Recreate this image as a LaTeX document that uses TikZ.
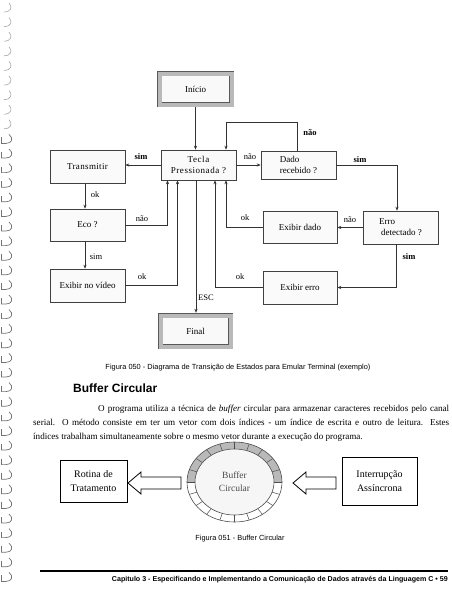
\documentclass[tikz,border=0pt]{standalone}
\usepackage{fontspec}
\setmainfont{Liberation Serif}
\newfontfamily\arialf{Liberation Sans}
\usetikzlibrary{arrows.meta}
\begin{document}
\begin{tikzpicture}[x=1pt,y=-1pt,
  box/.style={draw=black!75, line width=0.6pt, fill=gray!4, inner sep=1pt,
    font=\fontsize{9}{11}\selectfont, align=center},
  term/.style={draw=black!65, line width=0.45pt, double=gray!55, double distance=4pt,
    fill=gray!5, font=\fontsize{9}{10}\selectfont},
  arr/.style={draw=black!80, line width=0.6pt, -{Stealth[length=4pt,width=3.2pt]}},
  lbl/.style={font=\fontsize{8.5}{9}\selectfont, inner sep=0pt},
  blbl/.style={font=\bfseries\fontsize{8.5}{9}\selectfont, inner sep=0pt},
  bbox/.style={draw=black, line width=0.9pt, fill=white, align=center,
    font=\fontsize{10}{14}\selectfont},
  hollow/.style={draw=black, line width=0.8pt, fill=white, line join=miter},
  ring/.style={black!55, line width=0.7pt},
  capt/.style={font=\arialf\fontsize{7.4}{8}\selectfont, inner sep=0pt},
  para/.style={anchor=base west, inner sep=0pt, font=\fontsize{9.1}{11}\selectfont},
]
\useasboundingbox (0,0) rectangle (451,600);

% binding marks
\foreach \i in {0,...,39}{
  \pgfmathsetmacro{\yy}{8+14.6*\i}
  \ifnum\i<9
    \draw[black!35, line width=0.6pt] (4,\yy+4) .. controls (11,\yy+4) and (13,\yy-1) .. (9,\yy-5);
  \else
    \draw[ring] (1,\yy+4) -- (6,\yy+4) .. controls (12,\yy+4) and (14,\yy-1) .. (9,\yy-5);
    \draw[ring] (1,\yy-2) -- (1,\yy+4);
  \fi
}

% ---------- state diagram ----------
\node[term, minimum width=72pt, minimum height=31pt] (inicio) at (195.5,89) {Início};
\node[box, minimum width=75pt, minimum height=30pt] (tecla) at (198.5,165)
  {\addfontfeature{LetterSpace=6}Tecla\\\addfontfeature{LetterSpace=6}Pressionada ?};
\node[box, minimum width=75pt, minimum height=28pt, align=left] (dado) at (298.5,165) {Dado\\recebido ?};
\node[box, minimum width=75pt, minimum height=33pt] (trans) at (87.5,166.5) {\addfontfeature{LetterSpace=4}Transmitir};
\node[box, minimum width=75pt, minimum height=32pt] (eco) at (87.5,225) {Eco ?};
\node[box, minimum width=75pt, minimum height=33pt] (video) at (87.5,285.5) {Exibir no vídeo};
\node[box, minimum width=74pt, minimum height=32pt] (exdado) at (300,227) {Exibir dado};
\node[box, minimum width=75pt, minimum height=33pt, align=left] (erro) at (400.5,227.5) {Erro\\\hspace*{2pt}detectado ?};
\node[box, minimum width=74pt, minimum height=33pt] (exerro) at (300,287.5) {Exibir erro};
\node[term, minimum width=70pt, minimum height=31pt] (final) at (195.5,331) {Final};

\draw[arr, shorten <=2.5pt] (inicio.south) -- (inicio.south |- tecla.north);
\draw[arr] ([xshift=-1.5pt]dado.north) -- ++(0,-28) -| ([xshift=27.5pt]tecla.north);
\draw[arr] (tecla.west) -- (tecla.west -| trans.east);
\draw[arr] (tecla.east) -- (tecla.east -| dado.west);
\draw[arr] (dado.east) -| ([xshift=-3.5pt]erro.north);
\draw[arr] (trans.south -| 85,0) -- (eco.north -| 85,0);
\draw[arr] (eco.south -| 85,0) -- (video.north -| 85,0);
\draw[arr] (eco.east) -| ([xshift=-31pt]tecla.south);
\draw[arr] (video.east) -| ([xshift=-21pt]tecla.south);
\draw[arr, shorten >=2.5pt] ([xshift=-2.5pt]tecla.south) -- ([xshift=-2.5pt]tecla.south |- final.north);
\draw[arr] (exdado.west) -| ([xshift=27.5pt]tecla.south);
\draw[arr] (exerro.west) -| ([xshift=16.5pt]tecla.south);
\draw[arr] (erro.west) -- (erro.west -| exdado.east);
\draw[arr] ([xshift=-4.5pt]erro.south) |- (exerro.east);

\node[blbl] (l1) at (310,133) {não};
\node[blbl] (l2) at (141,157) {sim};
\node[lbl]  (l3) at (250,157) {não};
\node[blbl] (l4) at (360,160) {sim};
\node[lbl]  (l5) at (95,195) {ok};
\node[lbl]  (l6) at (96,257) {sim};
\node[lbl]  (l7) at (142,219) {não};
\node[lbl]  (l8) at (142,277) {ok};
\node[lbl]  (l9) at (206,298) {ESC};
\node[lbl]  (l10) at (245,218) {ok};
\node[lbl]  (l11) at (240,277) {ok};
\node[lbl]  (l12) at (350,220) {não};
\node[blbl] (l13) at (409,257) {sim};

\node[capt] (cap1) at (238,368) {Figura 050 - Diagrama de Transição de Estados para Emular Terminal (exemplo)};

% ---------- text ----------
\node[anchor=west, inner sep=0pt, font=\arialf\bfseries\fontsize{12}{14}\selectfont] (head) at (73,388) {Buffer Circular};
\node[para] (p1) at (98,411)
  {\makebox[351pt][s]{O programa utiliza a técnica de \textit{buffer} circular para armazenar caracteres recebidos pelo canal}};
\node[para] (p2) at (33,425)
  {\makebox[416pt][s]{serial. O método consiste em ter um vetor com dois índices - um índice de escrita e outro de leitura. Estes}};
\node[para] (p3) at (33,439)
  {índices trabalham simultaneamente sobre o mesmo vetor durante a execução do programa.};

% ---------- buffer circular ----------
\def\cx{234.5}\def\cy{482}
\fill[white] (\cx,\cy) ellipse[x radius=47.5, y radius=40];
\fill[gray!55] plot[domain=180:360, samples=50] ({\cx+47.5*cos(\x)},{\cy+40*sin(\x)})
  -- plot[domain=360:180, samples=50] ({\cx+39.5*cos(\x)},{\cy+33*sin(\x)}) -- cycle;
\draw[black!70, line width=0.6pt, fill=gray!7] (\cx,\cy) ellipse[x radius=39.5, y radius=33];
\draw[black!70, line width=0.6pt] (\cx,\cy) ellipse[x radius=47.5, y radius=40];
\foreach \a in {0,18,...,342}
  \draw[black!70, line width=0.5pt] ({\cx+39.5*cos(\a)},{\cy+33*sin(\a)}) -- ({\cx+47.5*cos(\a)},{\cy+40*sin(\a)});
\node[align=center, text=black!70, font=\fontsize{9.5}{13}\selectfont] (buf) at (\cx,\cy) {Buffer\\Circular};

\node[bbox, minimum width=67pt, minimum height=42pt] (rotina) at (93.5,481) {Rotina de\\Tratamento};
\node[bbox, minimum width=75pt, minimum height=48pt] (interr) at (379.5,481) {Interrupção\\Assíncrona};

\draw[hollow] (128,483) -- (141,472) -- (141,477) -- (181,477) -- (181,489) -- (141,489) -- (141,494) -- cycle;
\draw[hollow] (293,483) -- (306,472) -- (306,477) -- (336,477) -- (336,489) -- (306,489) -- (306,494) -- cycle;

\node[capt] (cap2) at (240,539) {Figura 051 - Buffer Circular};

% ---------- footer ----------
\draw[black, line width=1.2pt] (40,571) -- (448,571);
\node[anchor=east, inner sep=0pt, font=\arialf\bfseries\fontsize{7.1}{8}\selectfont] (foot) at (448,580)
  {Capitulo 3 - Especificando e Implementando a Comunicação de Dados através da Linguagem C • 59};
\end{tikzpicture}
\end{document}
